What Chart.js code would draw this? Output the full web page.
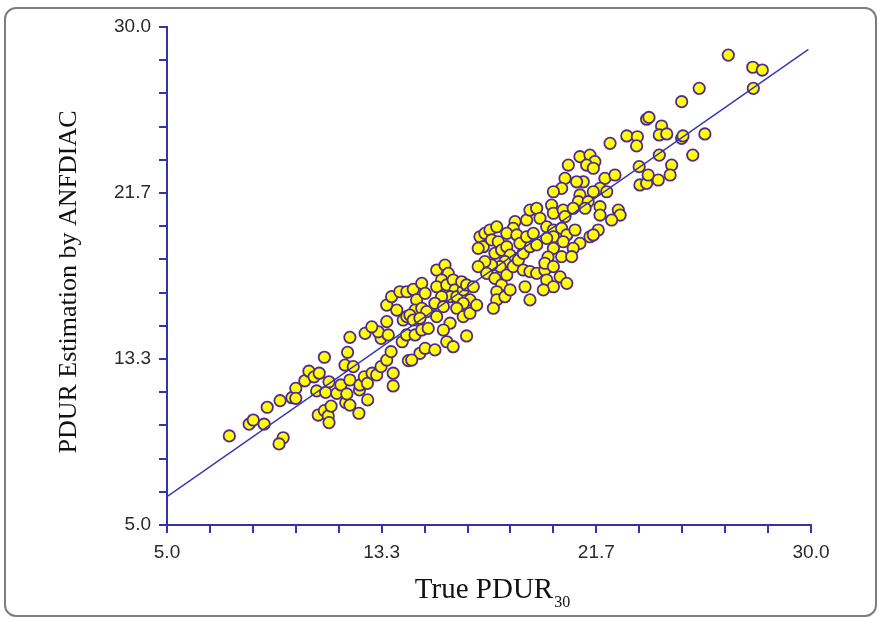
<!DOCTYPE html>
<html>
<head>
<meta charset="utf-8">
<title>PDUR estimation</title>
<script src="https://cdn.jsdelivr.net/npm/chart.js@4.4.1/dist/chart.umd.min.js"></script>
<style>
  html, body { margin: 0; padding: 0; background: #ffffff; }
  #wrap { position: relative; width: 878px; height: 618px; overflow: hidden; }
  #frame {
    position: absolute; left: 4px; top: 7px; width: 869px; height: 606px;
    border: 2px solid #7d7d7d; border-radius: 12px; box-sizing: content-box;
  }
  #c { position: absolute; left: 0; top: 0; }
</style>
</head>
<body>
<div id="wrap">
  <div id="frame"></div>
  <canvas id="c" width="878" height="618"></canvas>
</div>
<script>
// True PDUR30 values (x) and the ANFDIAC estimates (y), one entry per sample
const trueVals = [
  7.42, 8.19, 8.35, 8.77, 8.89, 9.39, 9.51, 9.35, 9.85, 10.0, 10.0, 10.87, 11.11, 11.26, 11.29, 11.37,
  11.94, 12.1, 12.45, 12.79, 10.35, 10.51, 10.71, 10.91, 10.81, 11.11, 11.16, 11.29, 11.59, 11.75,
  11.91, 12.01, 11.98, 12.1, 12.23, 12.1, 12.47, 12.49, 12.66, 12.78, 12.69, 12.96, 13.14, 13.31,
  13.31, 13.2, 13.53, 13.7, 13.78, 13.78, 13.59, 14.13, 14.3, 14.37,
  12.95, 13.53, 13.53, 13.72, 14.04, 14.31, 13.92, 14.17, 14.31, 14.56, 14.89, 14.69, 15.02, 14.63,
  14.89, 15.08, 14.43, 14.63, 14.89, 15.14, 14.82, 15.02, 14.50, 14.56, 14.82, 15.40, 15.86, 16.11, 16.63,
  15.47, 15.79, 15.92, 15.66, 15.47, 15.86, 16.11, 16.18, 15.99, 15.66, 15.40, 15.73, 16.25, 16.50,
  16.44, 16.63, 16.89, 16.76, 16.50, 16.25, 16.50, 16.76, 17.02, 15.99, 15.73, 15.47,
  17.15, 17.34, 17.54, 17.80, 17.28, 17.08, 17.60, 17.86, 17.73, 17.99, 18.19, 18.32, 18.12, 17.93,
  17.60, 17.34, 17.08, 17.41, 17.73, 17.99, 17.80, 18.19, 18.44, 18.64, 18.83, 19.09, 19.35, 18.83,
  19.09, 19.35, 18.90, 17.80, 17.67, 18.12, 18.32, 18.51, 18.44, 18.19, 18.58, 18.70, 18.96, 19.22,
  18.96, 19.09, 19.35, 19.48, 19.67, 19.74, 20.00, 19.61, 20.26, 20.52, 19.09,
  22.20, 21.03, 21.42, 21.61, 21.29, 21.55, 20.58, 20.45, 20.32, 20.00, 21.16, 20.90, 22.00, 22.39,
  21.81, 21.55, 22.07, 21.03, 20.97, 21.35, 19.93, 20.00, 20.38, 20.45, 20.77, 21.23, 21.81, 21.81,
  22.52, 22.59, 22.26, 19.74, 20.00, 20.32, 20.52, 20.84, 20.00, 19.74, 20.38, 21.03, 20.77, 21.42,
  21.74, 21.55, 20.00, 20.32, 19.79, 20.71, 19.67, 20.00, 23.36, 23.62, 24.07,
  26.79, 27.74, 28.11, 27.76, 25.66, 24.98, 23.62, 22.85, 23.26, 23.23, 24.20, 24.11, 24.40, 24.98,
  25.88, 24.11, 25.41, 24.59, 23.33, 23.68, 24.53, 23.71, 25.03
];
const estVals = [
  9.47, 10.06, 10.27, 10.06, 10.91, 11.24, 9.38, 9.07, 11.39, 11.86, 11.36, 10.52, 10.74, 10.47, 10.14, 10.97,
  11.14, 11.02, 10.61, 11.28, 12.24, 12.72, 12.44, 12.62, 11.73, 13.42, 11.66, 12.19, 11.61, 12.03,
  13.03, 13.67, 11.58, 12.28, 12.95, 14.42, 11.78, 12.03, 12.44, 12.11, 14.62, 12.62, 12.53, 12.95,
  14.37, 14.7, 13.28, 13.7, 12.62, 11.98, 14.54, 14.2, 14.54, 13.25,
  14.95, 15.21, 16.04, 16.46, 16.71, 16.71, 15.79, 15.29, 15.46, 16.83, 17.13, 16.30, 16.63, 15.79,
  15.88, 15.71, 15.54, 14.54, 14.79, 14.87, 13.62, 13.87, 13.28, 15.29, 15.38, 13.79, 14.20, 13.95, 14.49,
  17.80, 18.05, 17.63, 17.30, 16.96, 17.05, 17.30, 16.80, 16.46, 16.46, 16.13, 15.96, 16.46, 16.80,
  17.21, 17.05, 16.96, 16.30, 16.13, 15.88, 15.46, 15.63, 16.04, 15.13, 14.79, 15.46,
  19.47, 19.64, 19.81, 19.97, 18.97, 18.89, 19.31, 19.22, 18.64, 18.80, 18.97, 18.55, 18.22, 17.97,
  18.05, 18.22, 17.97, 17.63, 17.38, 17.05, 16.71, 17.55, 17.97, 18.30, 18.64, 18.97, 19.06, 17.80,
  17.72, 17.63, 16.96, 16.30, 15.88, 16.46, 16.80, 20.23, 19.89, 19.64, 19.56, 19.14, 19.47, 19.64,
  20.31, 20.81, 20.90, 20.40, 17.80, 17.30, 16.96, 16.80, 17.46, 17.13, 16.30,
  24.16, 23.49, 23.57, 23.24, 23.07, 22.91, 23.07, 22.40, 21.90, 21.73, 22.23, 22.23, 22.40, 22.57,
  21.90, 21.73, 21.73, 21.57, 21.23, 21.23, 21.06, 20.65, 20.81, 20.48, 20.90, 20.90, 20.98, 20.56,
  20.81, 20.56, 20.31, 19.97, 19.81, 19.89, 19.56, 19.81, 19.47, 19.39, 19.22, 19.14, 18.89, 19.47,
  19.81, 19.56, 18.89, 18.47, 18.45, 18.47, 18.14, 17.97, 22.07, 22.15, 22.32,
  28.59, 27.98, 27.84, 26.92, 26.92, 26.25, 25.37, 24.53, 24.49, 24.03, 25.03, 24.58, 24.63, 24.41,
  24.63, 23.57, 23.57, 23.07, 22.99, 22.57, 22.57, 25.46, 24.53
];

// Fitted line, given by its two end points
const fitX = [5.0, 29.9];
const fitY = [6.42, 28.88];

// Axis range, minor tick count and the labels shown on every fifth tick
const axisMin = 5;
const axisMax = 30;
const minorSteps = 15;
const tickLabels = ['5.0', '13.3', '21.7', '30.0'];

const xTitle = 'True PDUR';
const xTitleSub = '30';
const yTitle = 'PDUR Estimation by ANFDIAC';

const AXIS_BLUE = '#3434a8';

const points = trueVals.map((x, i) => ({ x: x, y: estVals[i] }));
const fitLine = fitX.map((x, i) => ({ x: x, y: fitY[i] }));

function setTicks(scale) {
  const t = [];
  for (let i = 0; i <= minorSteps; i++) {
    t.push({ value: axisMin + (axisMax - axisMin) * i / minorSteps });
  }
  scale.ticks = t;
}

function tickText(value, index) {
  return index % 5 === 0 ? tickLabels[index / 5] : '';
}

function axisConfig(extra) {
  return Object.assign({
    type: 'linear',
    min: axisMin,
    max: axisMax,
    afterBuildTicks: setTicks,
    border: { display: true, color: AXIS_BLUE, width: 2 },
    grid: {
      display: true,
      drawOnChartArea: false,
      drawTicks: true,
      tickLength: 8,
      color: AXIS_BLUE,
      lineWidth: 2
    },
    ticks: {
      autoSkip: false,
      maxRotation: 0,
      padding: 8,
      color: '#2a2a2a',
      font: { family: '"Liberation Sans", Arial, sans-serif', size: 19 },
      callback: tickText
    }
  }, extra);
}

// Axis titles (serif, with a subscript on the x title)
const axisTitles = {
  id: 'axisTitles',
  afterDraw(chart) {
    const ctx = chart.ctx;
    const area = chart.chartArea;
    const serif = '"Liberation Serif", "Times New Roman", serif';
    ctx.save();
    ctx.fillStyle = '#111111';
    ctx.textBaseline = 'alphabetic';

    ctx.font = '29px ' + serif;
    const w1 = ctx.measureText(xTitle).width;
    ctx.font = '16px ' + serif;
    const w2 = ctx.measureText(xTitleSub).width;
    const cx = (area.left + area.right) / 2 + 3;
    const x0 = cx - (w1 + w2) / 2;
    ctx.textAlign = 'left';
    ctx.font = '29px ' + serif;
    ctx.fillText(xTitle, x0, 598);
    ctx.font = '16px ' + serif;
    ctx.fillText(xTitleSub, x0 + w1 + 1, 607);

    ctx.translate(76, 282);
    ctx.rotate(-Math.PI / 2);
    ctx.textAlign = 'center';
    ctx.font = '26px ' + serif;
    ctx.fillText(yTitle, 0, 0);
    ctx.restore();
  }
};

new Chart(document.getElementById('c'), {
  type: 'scatter',
  data: {
    datasets: [
      {
        label: 'fit',
        data: fitLine,
        showLine: true,
        borderColor: '#3636b0',
        borderWidth: 1.4,
        pointRadius: 0,
        fill: false,
        order: 0
      },
      {
        label: 'samples',
        data: points,
        backgroundColor: '#ffff00',
        borderColor: '#4f2a90',
        borderWidth: 1.8,
        pointRadius: 5.7,
        order: 1
      }
    ]
  },
  options: {
    responsive: false,
    animation: false,
    events: [],
    layout: { padding: { left: 0, top: 27, right: 67, bottom: 0 } },
    plugins: { legend: { display: false }, tooltip: { enabled: false } },
    scales: {
      x: axisConfig({ afterFit(s) { s.height = 93; } }),
      y: axisConfig({ afterFit(s) { s.width = 167; } })
    }
  },
  plugins: [axisTitles]
});
</script>
</body>
</html>
